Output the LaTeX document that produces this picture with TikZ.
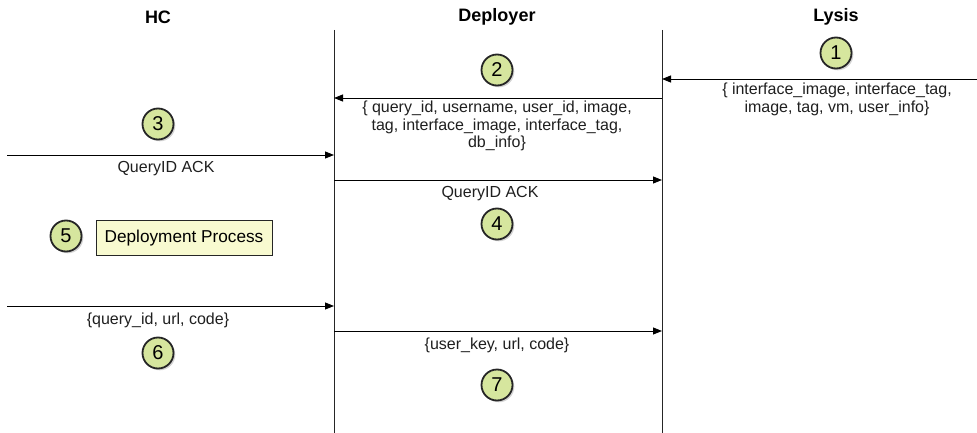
\documentclass[tikz,border=0pt]{standalone}
\usepackage{fontspec}
\setmainfont{Liberation Sans}
\usetikzlibrary{arrows.meta,shadows}
\definecolor{stepfill}{HTML}{D6E69E}
\definecolor{boxfill}{HTML}{F8FAD0}
\begin{document}
\begin{tikzpicture}[x=1pt,y=-1pt,
  lifeline/.style={line width=0.9pt,black!85},
  msg/.style={line width=0.9pt,-{Triangle[length=9pt,width=7pt]}},
  head/.style={font=\bfseries\fontsize{18}{20}\selectfont},
  lbl/.style={font=\fontsize{16}{17.5}\selectfont,align=center,inner sep=0pt,text=black!88},
  num/.style={circle,draw=black!85,line width=1.8pt,fill=stepfill,minimum size=31pt,inner sep=0pt,
    font=\fontsize{20}{20}\selectfont,drop shadow={opacity=0.35,shadow xshift=1.8pt,shadow yshift=-1.8pt}},
  procbox/.style={draw=black!85,line width=0.9pt,fill=boxfill,minimum width=176pt,minimum height=35pt,inner sep=0pt,font=\fontsize{17.2}{19}\selectfont}]
\useasboundingbox (0,0) rectangle (977,433);
% headers
\node[head] (hHC) at (158,17) {HC};
\node[head] (hDep) at (497,17) {Deployer};
\node[head] (hLys) at (836,17) {Lysis};
% lifelines
\coordinate (dTop) at (334,30); \coordinate (dBot) at (334,433);
\coordinate (lTop) at (662,30); \coordinate (lBot) at (662,433);
\draw[lifeline] (dTop) -- (dBot);
\draw[lifeline] (lTop) -- (lBot);
% message endpoints
\coordinate (m1s) at (977,79); \coordinate (m1e) at (662,79);
\coordinate (m2s) at (662,98); \coordinate (m2e) at (334,98);
\coordinate (m3s) at (7,155);  \coordinate (m3e) at (334,155);
\coordinate (m4s) at (334,180); \coordinate (m4e) at (662,180);
\coordinate (m6s) at (7,306);  \coordinate (m6e) at (334,306);
\coordinate (m7s) at (334,331); \coordinate (m7e) at (662,331);
\draw[msg] (m1s) -- (m1e);
\draw[msg] (m2s) -- (m2e);
\draw[msg] (m3s) -- (m3e);
\draw[msg] (m4s) -- (m4e);
\draw[msg] (m6s) -- (m6e);
\draw[msg] (m7s) -- (m7e);
% labels
\node[lbl,anchor=north] (t1) at (837,83) {\{ interface\_image, interface\_tag,\\image, tag, vm, user\_info\}};
\node[lbl,anchor=north] (t2) at (497,101) {\{ query\_id, username, user\_id, image,\\tag, interface\_image, interface\_tag,\\db\_info\}};
\node[lbl,anchor=north] (t3) at (166,161) {QueryID ACK};
\node[lbl,anchor=north] (t4) at (490,186) {QueryID ACK};
\node[lbl,anchor=north] (t6) at (158,313) {\{query\_id, url, code\}};
\node[lbl,anchor=north] (t7) at (497,338) {\{user\_key, url, code\}};
% process box
\node[procbox] (proc) at (184,238) {Deployment Process};
% step circles
\node[num] (c1) at (836,53) {1};
\node[num] (c2) at (497,70) {2};
\node[num] (c3) at (158,124) {3};
\node[num] (c4) at (497,224) {4};
\node[num] (c5) at (66,236) {5};
\node[num] (c6) at (158,353) {6};
\node[num] (c7) at (497,385) {7};
\end{tikzpicture}
\end{document}
